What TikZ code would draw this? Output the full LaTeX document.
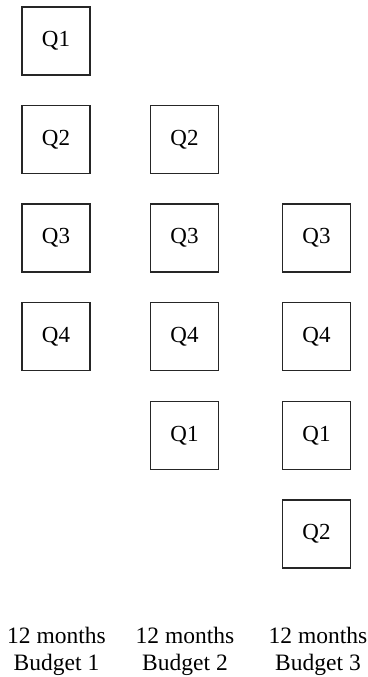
\documentclass[tikz,border=0pt]{standalone}
\usepackage{fontspec}
\setmainfont{Liberation Serif}
\begin{document}
\begin{tikzpicture}[x=1pt,y=-1pt,
  qbox/.style={draw=black!85,line width=1.2pt,minimum size=68pt,inner sep=0pt,font=\fontsize{23}{27}\selectfont},
  lbl/.style={align=center,font=\fontsize{23.5}{27}\selectfont,inner sep=0pt}]
\useasboundingbox (0,0) rectangle (367,677);
\node[qbox] (a1) at (56,41) {Q1};
\node[qbox] (a2) at (56,139.5) {Q2};
\node[qbox] (a3) at (56,238) {Q3};
\node[qbox] (a4) at (56,336.5) {Q4};
\node[qbox] (b2) at (184.5,139.5) {Q2};
\node[qbox] (b3) at (184.5,238) {Q3};
\node[qbox] (b4) at (184.5,336.5) {Q4};
\node[qbox] (b1) at (184.5,435.5) {Q1};
\node[qbox] (c3) at (316.5,238) {Q3};
\node[qbox] (c4) at (316.5,336.5) {Q4};
\node[qbox] (c1) at (316.5,435.5) {Q1};
\node[qbox] (c2) at (316.5,534) {Q2};
\node[lbl] (l1) at (56.5,651) {12 months\\Budget 1};
\node[lbl] (l2) at (185,651) {12 months\\Budget 2};
\node[lbl] (l3) at (318,651) {12 months\\Budget 3};
\end{tikzpicture}
\end{document}
